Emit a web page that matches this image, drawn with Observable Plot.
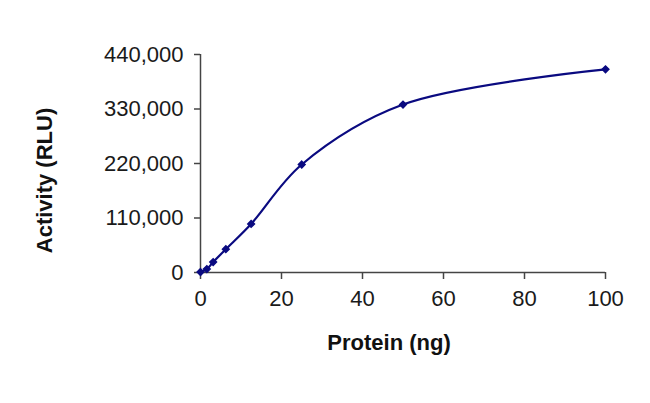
<!DOCTYPE html>
<html>
<head>
<meta charset="utf-8">
<script src="https://cdn.jsdelivr.net/npm/d3@7"></script>
<script src="https://cdn.jsdelivr.net/npm/@observablehq/plot@0.6"></script>
<style>
  html, body { margin: 0; padding: 0; background: white; }
</style>
</head>
<body>
<div id="chart"></div>
<script>
const protein = [0, 1.5625, 3.125, 6.25, 12.5, 25, 50, 100];
const activity = [1000, 7000, 21000, 47000, 98000, 218000, 339000, 410000];
const xTicks = [0, 20, 40, 60, 80, 100];
const yTicks = [0, 110000, 220000, 330000, 440000];
const xTitle = "Protein (ng)";
const yTitle = "Activity (RLU)";

const data = protein.map((p, i) => ({protein: p, activity: activity[i]}));
const navy = "#0a0a80";
const axisColor = "#444";

const chart = Plot.plot({
  width: 650,
  height: 403,
  marginTop: 54,
  marginRight: 45,
  marginBottom: 131,
  marginLeft: 200,
  style: {fontFamily: "'Liberation Sans', Arial, sans-serif", fontSize: "22px", color: "#1a1a1a", background: "white"},
  x: {domain: [0, 100]},
  y: {domain: [0, 440000]},
  marks: [
    Plot.axisX({ticks: xTicks, tickSize: 7, tickPadding: 11, stroke: axisColor, strokeWidth: 1.5, fontSize: 22, label: null}),
    Plot.axisY({ticks: yTicks, tickSize: 6, tickPadding: 11, stroke: axisColor, strokeWidth: 1.5, fontSize: 22, tickFormat: d3.format(","), label: null}),
    Plot.ruleX([0], {y1: 0, y2: 440000, stroke: axisColor, strokeWidth: 1.5}),
    Plot.ruleY([0], {x1: 0, x2: 100, stroke: axisColor, strokeWidth: 1.5}),
    Plot.line(data, {x: "protein", y: "activity", curve: "catmull-rom", stroke: navy, strokeWidth: 2.2}),
    Plot.dot(data, {x: "protein", y: "activity", symbol: "diamond2", r: 3, fill: navy, stroke: navy}),
    Plot.text([xTitle], {frameAnchor: "bottom", textAnchor: "middle", dx: -14, dy: 77, fontWeight: "bold", fontSize: 22, fill: "#111"}),
    Plot.text([yTitle], {frameAnchor: "left", textAnchor: "middle", rotate: -90, dx: -156, dy: 17, fontWeight: "bold", fontSize: 22, fill: "#111"})
  ]
});
document.getElementById("chart").appendChild(chart);
</script>
</body>
</html>
